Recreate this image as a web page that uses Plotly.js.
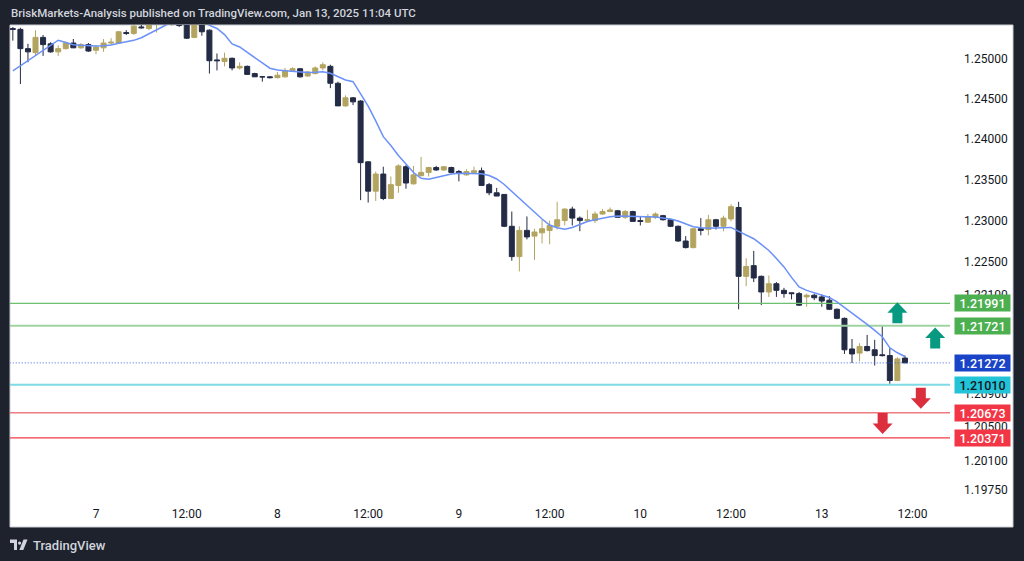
<!DOCTYPE html>
<html><head><meta charset="utf-8">
<script src="https://cdn.plot.ly/plotly-3.0.1.min.js"></script>
<style>html,body{margin:0;padding:0;background:#1e222d;overflow:hidden}#chart{width:1024px;height:561px}</style>
</head><body><div id="chart"></div>
<script>
// ---- data (1h bars, Jan 6 13:00 -> Jan 13 11:00 UTC) ----
const opens = [
1.2537,1.2536,1.2512,1.2507,1.2526,1.2518,1.2508,1.2512,1.2519,1.2513,
1.2517,1.2510,1.2513,1.2519,1.2519,1.2532,1.2531,1.2539,1.2537,1.2549,
1.2555,1.2561,1.2542,1.2542,1.2526,1.2545,1.2535,1.2498,1.2496,1.2500,
1.2488,1.2490,1.2481,1.2477,1.2477,1.2476,1.2477,1.2485,1.2487,1.2478,
1.2481,1.2488,1.2490,1.2469,1.2441,1.2451,1.2447,1.2372,1.2336,1.2357,
1.2327,1.2343,1.2366,1.2345,1.2355,1.2359,1.2365,1.2362,1.2365,1.2360,
1.2356,1.2359,1.2361,1.2344,1.2334,1.2332,1.2293,1.2256,1.2288,1.2281,
1.2285,1.2288,1.2293,1.2300,1.2314,1.2303,1.2300,1.2300,1.2308,1.2311,
1.2312,1.2304,1.2311,1.2300,1.2298,1.2304,1.2306,1.2301,1.2293,1.2275,
1.2267,1.2290,1.2289,1.2301,1.2293,1.2302,1.2316,1.2232,1.2245,1.2232,
1.2213,1.2223,1.2215,1.2212,1.2211,1.2207,1.2209,1.2207,1.2203,1.2192,
1.2181,1.2144,1.2139,1.2147,1.2143,1.2137,1.2136,1.2106,1.2133];
const highs = [
1.2539,1.2538,1.2518,1.2535,1.2529,1.2520,1.2516,1.2521,1.2524,1.2519,
1.2519,1.2516,1.2524,1.2525,1.2534,1.2535,1.2543,1.2542,1.2552,1.2560,
1.2568,1.2566,1.2550,1.2547,1.2550,1.2550,1.2536,1.2506,1.2507,1.2501,
1.2495,1.2491,1.2482,1.2478,1.2478,1.2483,1.2488,1.2489,1.2488,1.2484,
1.2490,1.2495,1.2492,1.2471,1.2454,1.2452,1.2448,1.2373,1.2360,1.2366,
1.2354,1.2369,1.2368,1.2367,1.2378,1.2366,1.2367,1.2367,1.2366,1.2362,
1.2363,1.2366,1.2365,1.2346,1.2340,1.2332,1.2311,1.2293,1.2305,1.2290,
1.2301,1.2300,1.2323,1.2315,1.2317,1.2305,1.2313,1.2311,1.2314,1.2316,
1.2313,1.2313,1.2312,1.2305,1.2308,1.2310,1.2307,1.2301,1.2294,1.2281,
1.2291,1.2303,1.2307,1.2302,1.2306,1.2320,1.2323,1.2254,1.2263,1.2233,
1.2233,1.2225,1.2218,1.2212,1.2213,1.2211,1.2211,1.2210,1.2208,1.2193,
1.2182,1.2156,1.2151,1.2161,1.2155,1.2172,1.2145,1.2134,1.2136];
const lows = [
1.2522,1.2468,1.2495,1.2504,1.2503,1.2507,1.2503,1.2511,1.2513,1.2512,
1.2508,1.2505,1.2508,1.2517,1.2519,1.2529,1.2529,1.2537,1.2535,1.2532,
1.2548,1.2541,1.2539,1.2524,1.2525,1.2528,1.2481,1.2485,1.2490,1.2485,
1.2486,1.2480,1.2477,1.2471,1.2475,1.2475,1.2476,1.2484,1.2476,1.2477,
1.2480,1.2485,1.2463,1.2441,1.2440,1.2442,1.2325,1.2322,1.2324,1.2325,
1.2327,1.2334,1.2339,1.2344,1.2354,1.2354,1.2361,1.2361,1.2358,1.2348,
1.2355,1.2358,1.2343,1.2331,1.2330,1.2292,1.2251,1.2238,1.2277,1.2252,
1.2272,1.2271,1.2289,1.2294,1.2294,1.2287,1.2299,1.2297,1.2307,1.2311,
1.2304,1.2302,1.2299,1.2294,1.2297,1.2302,1.2300,1.2292,1.2274,1.2266,
1.2266,1.2282,1.2282,1.2289,1.2287,1.2299,1.2192,1.2220,1.2225,1.2197,
1.2207,1.2207,1.2206,1.2204,1.2196,1.2195,1.2203,1.2195,1.2191,1.2180,
1.2138,1.2127,1.2129,1.2141,1.2124,1.2135,1.2102,1.2105,1.21272];
const closes = [
1.2536,1.2512,1.2508,1.2526,1.2517,1.2508,1.2512,1.2519,1.2513,1.2517,
1.2509,1.2514,1.2519,1.2520,1.2533,1.2531,1.2540,1.2538,1.2549,1.2555,
1.2561,1.2543,1.2541,1.2525,1.2545,1.2533,1.2497,1.2497,1.2500,1.2488,
1.2490,1.2480,1.2477,1.2477,1.2476,1.2479,1.2485,1.2487,1.2477,1.2483,
1.2488,1.2492,1.2469,1.2441,1.2451,1.2446,1.2371,1.2336,1.2357,1.2327,
1.2344,1.2367,1.2346,1.2356,1.2359,1.2365,1.2362,1.2366,1.2359,1.2358,
1.2360,1.2361,1.2343,1.2334,1.2330,1.2293,1.2256,1.2288,1.2280,1.2286,
1.2290,1.2294,1.2301,1.2314,1.2303,1.2300,1.2301,1.2308,1.2311,1.2313,
1.2304,1.2311,1.2299,1.2299,1.2305,1.2308,1.2301,1.2293,1.2275,1.2267,
1.2290,1.2288,1.2301,1.2293,1.2303,1.2317,1.2232,1.2244,1.2230,1.2213,
1.2223,1.2215,1.2211,1.2211,1.2197,1.2209,1.2206,1.2202,1.2192,1.2181,
1.2143,1.2138,1.2147,1.2142,1.2136,1.2136,1.2106,1.2132,1.21272];
const maValues = [
1.24845,1.24909,1.24974,1.25037,1.25102,1.25165,1.25225,1.25197,1.25169,1.25162,
1.25156,1.25153,1.25156,1.25165,1.25187,1.25205,1.25223,1.25256,1.25308,1.25352,
1.25402,1.25452,1.25477,1.25489,1.25477,1.25452,1.25408,1.25371,1.25295,1.25178,
1.25141,1.25078,1.25010,1.24942,1.24877,1.24855,1.24844,1.24837,1.24831,1.24824,
1.24826,1.24832,1.24814,1.24774,1.24731,1.24710,1.24557,1.24408,1.24224,1.24030,
1.23921,1.23798,1.23694,1.23589,1.23517,1.23506,1.23528,1.23552,1.23571,1.23579,
1.23579,1.23577,1.23573,1.23552,1.23509,1.23442,1.23356,1.23270,1.23179,1.23093,
1.23019,1.22946,1.22912,1.22895,1.22916,1.22952,1.22989,1.23009,1.23028,1.23046,
1.23056,1.23053,1.23051,1.23050,1.23049,1.23044,1.23032,1.23019,1.22995,1.22958,
1.22924,1.22912,1.22906,1.22910,1.22914,1.22916,1.22867,1.22820,1.22778,1.22708,
1.22635,1.22538,1.22435,1.22307,1.22192,1.22149,1.22119,1.22089,1.22064,1.22010,
1.21943,1.21871,1.21810,1.21737,1.21665,1.21587,1.21454,1.21394,1.21349];

const timeTickBars = [11,23,35,47,59,71,83,95,107,119];
const timeTickText = ["7","12:00","8","12:00","9","12:00","10","12:00","13","12:00"];
const priceTicks = [1.25,1.245,1.24,1.235,1.23,1.225,1.221,1.209,1.205,1.201,1.1975];

const levelPrices = [1.21991,1.21721,1.21272,1.21010,1.20673,1.20371];
const levelLineColors = ["#6cc070","#9fd4a2","#3d63e6","#7fdbe6","#f07a82","#f03a48"];
const levelLineWidths = [1.2,2,1,2,1.5,1.2];
const levelLabelBg = ["#4caf50","#4caf50","#1a44c8","#22c3d6","#f23645","#f23645"];
const levelLabelFg = ["#ffffff","#ffffff","#ffffff","#131722","#ffffff","#ffffff"];

const arrowBars = [117.0,122.0,120.1,115.05];
const arrowTips = [1.22006,1.21699,1.20721,1.20418];
const arrowDirs = ["up","up","down","down"];
const arrowColors = ["#089981","#089981","#dc2f3e","#dc2f3e"];

// ---- geometry ----
const W=1024,H=561,ML=10,MR=74,MT=25,MB=61;
const plotW=W-ML-MR, plotH=H-MT-MB;
const xRange=[-0.376,123.96];
const yLo=1.196304, yHi=1.254144;
const yRange=[Math.log10(yLo),Math.log10(yHi)];
const pxPerBar=plotW/(xRange[1]-xRange[0]);
const pxPerDec=plotH/(yRange[1]-yRange[0]);
const px2X=p=>(p-ML)/plotW;
const px2Y=p=>(H-MB-p)/plotH;

const barIdx = opens.map((_,i)=>i);
const gold="#b3a460", navy="#232b45";

const traces=[];
levelPrices.forEach((v,k)=>{
  traces.push({type:'scatter',mode:'lines',x:[-2,130],y:[v,v],hoverinfo:'skip',showlegend:false,
    line:{color:levelLineColors[k],width:levelLineWidths[k],dash:k===2?'1px,2px':'solid'}});
});
traces.push({type:'candlestick',x:barIdx,open:opens,high:highs,low:lows,close:closes,
  increasing:{line:{color:gold,width:1},fillcolor:gold},
  decreasing:{line:{color:navy,width:1},fillcolor:navy},
  whiskerwidth:0,hoverinfo:'skip',showlegend:false});
traces.push({type:'scatter',mode:'lines',x:barIdx,y:maValues,hoverinfo:'skip',showlegend:false,
  line:{color:'#6a90fa',width:1.5}});

// block arrows built around their tip anchor
arrowBars.forEach((b,k)=>{
  const s = arrowDirs[k]==='up'?1:-1;
  const pts=[[0,0],[10,10.5],[5,10.5],[5,21],[-5,21],[-5,10.5],[-10,10.5],[0,0]];
  traces.push({type:'scatter',mode:'lines',fill:'toself',fillcolor:arrowColors[k],
    line:{width:0,color:arrowColors[k]},hoverinfo:'skip',showlegend:false,
    x:pts.map(p=>b+p[0]/pxPerBar),
    y:pts.map(p=>arrowTips[k]*Math.pow(10,-s*p[1]/pxPerDec))});
});

const annotations=[];
levelPrices.forEach((v,k)=>{
  annotations.push({xref:'paper',yref:'y',x:px2X(982.5),y:Math.log10(v),xanchor:'center',yanchor:'middle',
    text:v.toFixed(5),showarrow:false,bgcolor:levelLabelBg[k],width:53,height:14,borderpad:1,
    font:{family:'Roboto',size:12.5,color:levelLabelFg[k],weight:500}});
});
annotations.push({xref:'paper',yref:'paper',x:px2X(9),y:px2Y(13),xanchor:'left',yanchor:'middle',showarrow:false,
  text:'BriskMarkets-Analysis published on TradingView.com, Jan 13, 2025 11:04 UTC',
  font:{family:'Roboto',size:11.5,color:'#d1d4dc',weight:500}});
annotations.push({xref:'paper',yref:'paper',x:px2X(31),y:px2Y(545),xanchor:'left',yanchor:'middle',showarrow:false,
  text:'TradingView',font:{family:'Roboto',size:13,color:'#d1d4dc',weight:500}});

function pathPx(pts){return 'M'+pts.map(p=>px2X(p[0]).toFixed(5)+','+px2Y(p[1]).toFixed(5)).join(' L')+' Z';}
const shapes=[
  {type:'rect',xref:'paper',yref:'paper',x0:px2X(10),x1:px2X(1013),y0:px2Y(527),y1:px2Y(25),
   fillcolor:'#ffffff',line:{color:'#c9ccd4',width:1},layer:'below'},
  {type:'path',xref:'paper',yref:'paper',path:pathPx([[10,539.5],[17,539.5],[17,550],[14,550],[14,543],[10,543]]),fillcolor:'#d1d4dc',line:{width:0}},
  {type:'circle',xref:'paper',yref:'paper',x0:px2X(18),x1:px2X(21.2),y0:px2Y(544.7),y1:px2Y(541.5),fillcolor:'#d1d4dc',line:{width:0}},
  {type:'path',xref:'paper',yref:'paper',path:pathPx([[23.5,539.5],[27.5,539.5],[23.3,550],[19.3,550]]),fillcolor:'#d1d4dc',line:{width:0}}
];

const layout={
  width:W,height:H,margin:{l:ML,r:MR,t:MT,b:MB,pad:0},
  paper_bgcolor:'#1e222d',plot_bgcolor:'#ffffff',showlegend:false,
  boxgap:0.34,boxgroupgap:0,
  xaxis:{range:xRange,showgrid:false,zeroline:false,showline:false,ticks:'',
    tickmode:'array',tickvals:timeTickBars,ticktext:timeTickText,ticklabelstandoff:5,
    tickfont:{family:'Roboto',size:12,color:'#131722'},rangeslider:{visible:false},fixedrange:true},
  yaxis:{type:'log',range:yRange,side:'right',showgrid:false,zeroline:false,showline:false,ticks:'',
    tickmode:'array',tickvals:priceTicks,ticktext:priceTicks.map(v=>v.toFixed(5)),ticklabelstandoff:13,
    tickfont:{family:'Roboto',size:12,color:'#131722'},fixedrange:true},
  annotations:annotations,shapes:shapes
};
Plotly.newPlot('chart',traces,layout,{staticPlot:true,displayModeBar:false});
</script></body></html>
